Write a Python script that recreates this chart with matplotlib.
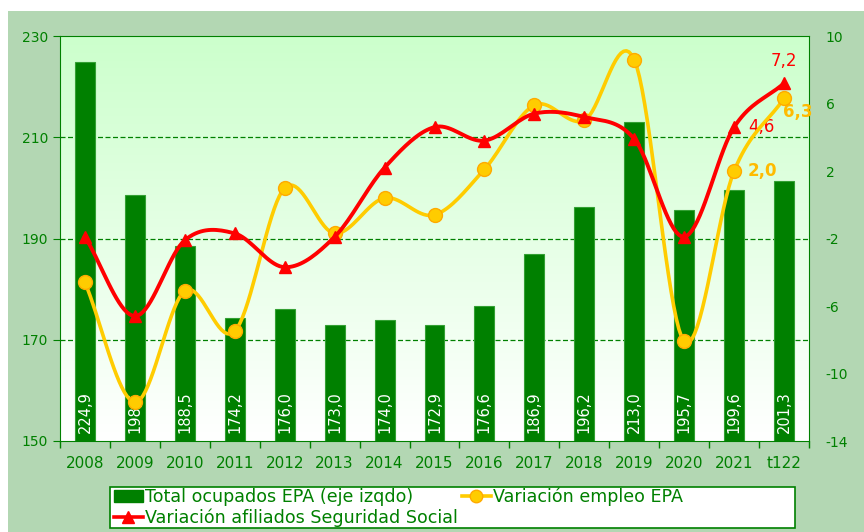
import numpy as np
import matplotlib
matplotlib.use("Agg")
import matplotlib.pyplot as plt
from matplotlib.patches import Rectangle
from matplotlib.lines import Line2D

plt.rcParams['axes.unicode_minus'] = False

# datos
anios = ['2008', '2009', '2010', '2011', '2012', '2013', '2014', '2015',
         '2016', '2017', '2018', '2019', '2020', '2021', 't122']
ocupados = [224.9, 198.6, 188.5, 174.2, 176.0, 173.0, 174.0, 172.9,
            176.6, 186.9, 196.2, 213.0, 195.7, 199.6, 201.3]
var_empleo = [-4.6, -11.7, -5.1, -7.5, 1.0, -1.7, 0.4, -0.6,
              2.1, 5.9, 5.0, 8.6, -8.1, 2.0, 6.3]
var_afiliados = [-1.9, -6.6, -2.1, -1.7, -3.7, -1.9, 2.2, 4.6,
                 3.8, 5.4, 5.2, 3.9, -1.9, 4.6, 7.2]

VERDE = '#008000'
FONDO = '#b3d7b3'


def suavizar(x, y, n=20):
    # curva tipo Catmull-Rom (como la linea suavizada de Excel)
    x = np.asarray(x, float)
    y = np.asarray(y, float)
    px = np.concatenate([[2 * x[0] - x[1]], x, [2 * x[-1] - x[-2]]])
    py = np.concatenate([[2 * y[0] - y[1]], y, [2 * y[-1] - y[-2]]])
    xs, ys = [], []
    t = np.linspace(0, 1, n)
    for i in range(1, len(px) - 2):
        for p, out in ((px, xs), (py, ys)):
            p0, p1, p2, p3 = p[i - 1], p[i], p[i + 1], p[i + 2]
            out.extend(0.5 * (2 * p1 + (-p0 + p2) * t +
                              (2 * p0 - 5 * p1 + 4 * p2 - p3) * t ** 2 +
                              (-p0 + 3 * p1 - 3 * p2 + p3) * t ** 3))
    return np.array(xs), np.array(ys)


fig = plt.figure(figsize=(8.64, 5.32), dpi=100)
fig.patch.set_facecolor('white')
fig.patches.append(Rectangle((8 / 864, 0), 1, (532 - 11) / 532,
                             transform=fig.transFigure, facecolor=FONDO,
                             edgecolor='none', zorder=-10))
# caja de la leyenda
fig.patches.append(Rectangle((110 / 864, 4 / 532), 685 / 864, 41 / 532,
                             transform=fig.transFigure, facecolor='white',
                             edgecolor=VERDE, linewidth=1.2, zorder=-5))

ax = fig.add_axes([60 / 864, 91 / 532, 749 / 864, 405 / 532])
ax.set_facecolor('none')
x = np.arange(len(anios))

# degradado del fondo
grad = np.linspace(0, 1, 256).reshape(-1, 1)
cmap = matplotlib.colors.LinearSegmentedColormap.from_list('g', ['#ffffff', '#ccffcc'])
ax.imshow(grad, extent=[-0.5, len(anios) - 0.5, 150, 230], aspect='auto',
          cmap=cmap, origin='lower', zorder=0)

ax.bar(x, [v - 150 for v in ocupados], bottom=150, width=0.4, color=VERDE,
       edgecolor='#33a033', linewidth=0.8, zorder=2)
for xi, v in zip(x, ocupados):
    ax.text(xi, 151.5, f'{v:.1f}'.replace('.', ','), rotation=90, color='white',
            ha='center', va='bottom', fontsize=10.5, zorder=3)

ax.set_xlim(-0.5, len(anios) - 0.5)
ax.set_ylim(150, 230)
ax.set_yticks([150, 170, 190, 210, 230])
for g in [170, 190, 210]:
    ax.axhline(g, color=VERDE, ls=(0, (4, 2)), lw=0.9, zorder=1)
ax.set_xticks(x)
ax.set_xticklabels(anios)
ax.set_xticks(np.arange(-0.5, len(anios)), minor=True)
ax.tick_params(axis='x', which='major', length=0, pad=11, labelsize=11, colors=VERDE)
ax.tick_params(axis='x', which='minor', length=5, color=VERDE, width=1)
ax.tick_params(axis='y', length=5, color=VERDE, labelsize=10, labelcolor=VERDE)
for s in ax.spines.values():
    s.set_color(VERDE)
ax.spines['right'].set_visible(False)

ax2 = ax.twinx()
ax2.set_ylim(-14, 10)
ax2.set_yticks([-14, -10, -6, -2, 2, 6, 10])
ax2.tick_params(axis='y', length=0, pad=12, labelsize=10, labelcolor=VERDE)
for s in ax2.spines.values():
    s.set_visible(False)
ax2.spines['right'].set_visible(True)
ax2.spines['right'].set_color(VERDE)

sx, sy = suavizar(x, var_empleo)
ax2.plot(sx, sy, color='#ffcc00', lw=2.6, zorder=4)
ax2.plot(x, var_empleo, 'o', color='#ffcc00', mec='#ffaa00', ms=10, zorder=5)
rx, ry = suavizar(x, var_afiliados)
ax2.plot(rx, ry, color='#ff0000', lw=2.8, zorder=6)
ax2.plot(x, var_afiliados, '^', color='#ff0000', ms=9, zorder=7)

ax2.text(14, 8.0, '7,2', color='#ff0000', fontsize=12, ha='center', va='bottom')
ax2.text(13.28, 4.6, '4,6', color='#ff0000', fontsize=12, ha='left', va='center')
ax2.text(13.28, 2.0, '2,0', color='#ffbb00', fontsize=12, ha='left', va='center',
         fontweight='bold')
ax2.text(13.98, 5.5, '6,3', color='#ffbb00', fontsize=12, ha='left', va='center',
         fontweight='bold')

h1 = Rectangle((0, 0), 1, 1, facecolor=VERDE, edgecolor=VERDE)
h2 = Line2D([], [], color='#ff0000', marker='^', lw=2.6, ms=9)
h3 = Line2D([], [], color='#ffcc00', marker='o', mec='#ffaa00', lw=2.6, ms=9)
leg = fig.legend([h1, h2, h3],
                 ['Total ocupados EPA (eje izqdo)', 'Variación afiliados Seguridad Social',
                  'Variación empleo EPA'],
                 ncol=2, loc='upper left', bbox_to_anchor=(112 / 864, 46 / 532),
                 frameon=False, fontsize=12.6, handlelength=1.65,
                 handletextpad=0.15, columnspacing=0.2, labelspacing=0.12,
                 borderpad=0.1, borderaxespad=0)
for t in leg.get_texts():
    t.set_color(VERDE)

fig.savefig('out.png', dpi=100, facecolor=fig.get_facecolor())
